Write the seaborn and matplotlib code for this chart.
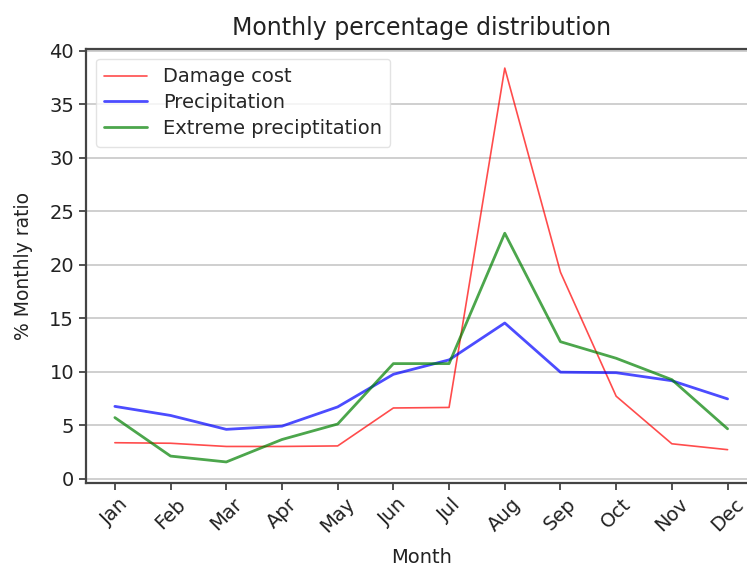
import matplotlib
matplotlib.use("Agg")
import matplotlib.pyplot as plt
import seaborn as sns
import pandas as pd

months = ["Jan", "Feb", "Mar", "Apr", "May", "Jun", "Jul", "Aug", "Sep", "Oct", "Nov", "Dec"]
damage_cost = [3.35, 3.3, 3.0, 3.0, 3.05, 6.6, 6.65, 38.4, 19.3, 7.7, 3.25, 2.7]
precipitation = [6.75, 5.9, 4.6, 4.9, 6.7, 9.75, 11.1, 14.55, 9.95, 9.9, 9.15, 7.45]
extreme_precip = [5.7, 2.1, 1.55, 3.65, 5.1, 10.75, 10.75, 22.95, 12.8, 11.25, 9.25, 4.65]

series_names = ["Damage cost", "Precipitation", "Extreme preciptitation"]
series_values = [damage_cost, precipitation, extreme_precip]
series_colors = ["red", "blue", "green"]
series_widths = [1.2, 2.0, 2.0]

rows = []
for name, vals in zip(series_names, series_values):
    for i, (m, v) in enumerate(zip(months, vals)):
        rows.append({"Month": m, "pos": i, "value": v, "series": name})
df = pd.DataFrame(rows)

sns.set_style("ticks")
plt.rcParams["font.family"] = ["DejaVu Sans"]

fig = plt.figure(figsize=(7.47, 5.68), dpi=100)
ax = fig.add_axes([0.115, 0.150, 0.900, 0.764])

for name, color, lw in zip(series_names, series_colors, series_widths):
    sub = df[df["series"] == name]
    sns.lineplot(data=sub, x="pos", y="value", color=color, alpha=0.7,
                 linewidth=lw, label=name, ax=ax)

ax.set_xlim(-0.52, 11.55)
ax.set_ylim(-0.4, 40.2)
ax.set_xticks(range(len(months)))
ax.set_xticklabels(months, rotation=45)
ax.set_yticks(range(0, 41, 5))
ax.tick_params(axis="both", labelsize=14, colors="#333333", length=5, width=1.2)
for lbl in ax.get_xticklabels() + ax.get_yticklabels():
    lbl.set_color("#222222")
ax.yaxis.grid(True, color="#cccccc", linewidth=1.3)
ax.set_axisbelow(True)
for sp in ax.spines.values():
    sp.set_color("#444444")
    sp.set_linewidth(1.6)

ax.set_xlabel("Month", fontsize=14, color="#222222", labelpad=8)
ax.set_ylabel("% Monthly ratio", fontsize=13.5, color="#222222", labelpad=12)
ax.set_title("Monthly percentage distribution", fontsize=17, color="#222222", pad=10)

leg = ax.legend(loc="upper left", fontsize=14, frameon=True, fancybox=True,
                handlelength=2.2, borderpad=0.45, labelspacing=0.35)
leg.get_frame().set_edgecolor("#dddddd")

fig.savefig("out.png", dpi=100)
